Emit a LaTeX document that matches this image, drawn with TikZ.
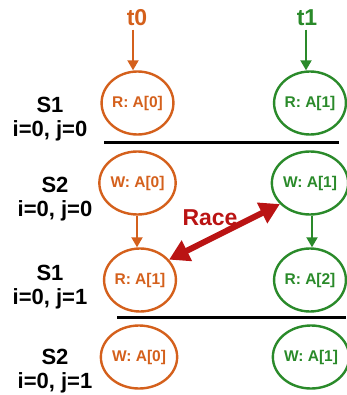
\documentclass[tikz,border=0pt]{standalone}
\usepackage{fontspec}
\setmainfont{Liberation Sans}
\usetikzlibrary{arrows.meta,shapes.geometric}
\definecolor{torange}{HTML}{D4601C}
\definecolor{tgreen}{HTML}{2A8A2A}
\definecolor{tred}{HTML}{BA1414}
\begin{document}
\begin{tikzpicture}[x=1pt,y=-1pt,
  op/.style={ellipse,draw,line width=2.4pt,minimum width=70pt,minimum height=63pt,inner sep=0pt,font=\bfseries\fontsize{15.5}{15.5}\selectfont},
  ort/.style={op,draw=torange,text=torange},
  grt/.style={op,draw=tgreen,text=tgreen,minimum width=66pt},
  lbl/.style={font=\bfseries\fontsize{22}{23.5}\selectfont,align=center},
  thr/.style={font=\bfseries\fontsize{23}{23}\selectfont},
  sep/.style={line width=3pt,black},
  flow/.style={line width=2pt,-{Triangle[length=10pt,width=11pt]}}]
\useasboundingbox (0,0) rectangle (346,395);
% thread labels
\node[thr,text=torange] (t0) at (137,18) {t0};
\node[thr,text=tgreen] (t1) at (307,18) {t1};
% ellipses
\node[ort] (a1) at (137.5,103) {R: A[0]};
\node[grt] (b1) at (310,103) {R: A[1]};
\node[ort] (a2) at (137.5,183) {W: A[0]};
\node[grt] (b2) at (310,183) {W: A[1]};
\node[ort] (a3) at (140,280) {R: A[1]};
\node[grt] (b3) at (310,280) {R: A[2]};
\node[ort] (a4) at (139,357) {W: A[0]};
\node[grt] (b4) at (311,357) {W: A[1]};
% row labels
\node[lbl] (l1) at (50,119) {S1\\i=0, j=0};
\node[lbl] (l2) at (55,199) {S2\\i=0, j=0};
\node[lbl] (l3) at (50,287) {S1\\i=0, j=1};
\node[lbl] (l4) at (55,371) {S2\\i=0, j=1};
% separators
\coordinate (s1a) at (104,143); \coordinate (s1b) at (339,143);
\coordinate (s2a) at (117,317); \coordinate (s2b) at (346,317);
\draw[sep] (s1a) -- (s1b);
\draw[sep] (s2a) -- (s2b);
% thread arrows
\draw[flow,torange] (t0.south -| 133,0) -- (a1.north -| 133,0);
\draw[flow,tgreen] (t1.south -| 306,0) -- (b1.north -| 306,0);
\draw[flow,torange] (a2.south -| 137,0) -- (a3.north -| 137,0);
\draw[flow,tgreen] (b2.south -| 312,0) -- (b3.north -| 312,0);
% race
\draw[tred,line width=6pt,{Triangle[length=20pt,width=22pt]}-{Triangle[length=20pt,width=22pt]}] (a3.35) -- (b2.215);
\node[thr,text=tred] (race) at (210,218) {Race};
\end{tikzpicture}
\end{document}
